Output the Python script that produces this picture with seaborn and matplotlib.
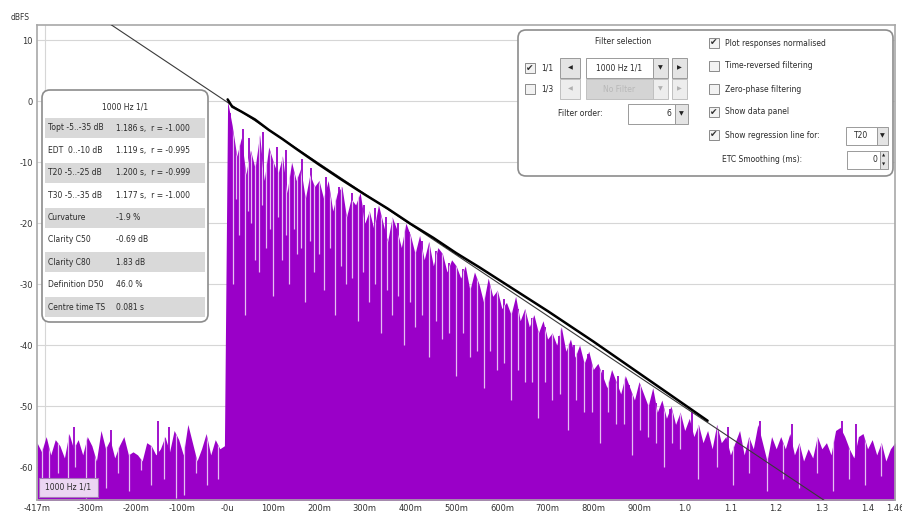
import numpy as np
import pandas as pd
import seaborn as sns
import matplotlib
matplotlib.use("Agg")
import matplotlib.pyplot as plt
from matplotlib.patches import FancyBboxPatch, Rectangle

# ETC level (dB), noise before the impulse, 10 ms steps from -417 ms
pre_db = [-56, -57.5, -55, -58, -55.5, -56.5, -58.5, -54.5, -57, -55.5, -58, -55, -56.5, -59,
          -54, -57, -55.5, -58.5, -56.5, -55, -58, -57.5, -58, -59, -56, -56.5, -58, -57, -55,
          -57.5, -54, -55.5, -58, -53, -56, -59, -57, -54.5, -58, -55.5, -57, -56.5]
# ETC level (dB), 10 ms steps from 0 s
decay_db = [0,
            -4, -9, -6, -12, -8, -11, -5.5, -13, -7.5, -10,
            -12, -9, -15, -10, -13, -11, -16, -12, -14, -13,
            -16, -13, -18, -15, -14, -19, -16, -17, -15, -20,
            -18, -21, -17, -20, -23, -19, -21, -24, -20, -22,
            -25, -22, -26, -23, -27, -24, -25, -28, -26, -27,
            -29, -27, -31, -28, -30, -33, -29, -32, -31, -34,
            -33, -35, -32, -36, -34, -37, -35, -38, -36, -39,
            -38, -40, -37, -41, -39, -42, -40, -43, -41, -44,
            -43, -45, -47, -44, -46, -48, -45, -47, -49, -46,
            -48, -50, -47, -51, -49, -52, -50, -53, -51, -54,
            -52, -55, -53, -56, -54, -57, -53, -56, -55, -58,
            -56, -54, -58, -55, -57, -53, -56, -59, -55, -57,
            -55, -57, -54.5, -58, -56, -59, -57, -58.5, -55, -57,
            -56, -58, -54, -53.5, -55, -57, -58.5, -55, -54.5, -57,
            -55.5, -58, -56, -59, -57, -56]

# narrow spikes above the ETC body
spike_t = [-0.335, -0.255, -0.152, -0.128, 0.005, 0.033, 0.047, 0.078, 0.107, 0.127, 0.163,
           0.183, 0.215, 0.243, 0.272, 0.298, 0.323, 0.347, 0.372, 0.397, 0.425, 0.455,
           0.485, 0.515, 0.545, 0.575, 0.605, 0.635, 0.665, 0.695, 0.725, 0.757, 0.788,
           0.822, 0.853, 0.877, 0.905, 0.938, 0.967, 1.015, 1.095, 1.165, 1.235, 1.345, 1.375]
spike_db = [-53.5, -54, -52.5, -53.5, -2, -4.5, -6, -5, -7.5, -8, -9.5,
            -11, -12.5, -14, -15, -17, -17.5, -19, -20, -21.5, -23, -24.5,
            -26.5, -27.5, -29.5, -31, -32.5, -34, -35.5, -37, -38.5, -40, -41.5,
            -44, -45, -46.5, -47.5, -49.5, -50.5, -51, -53.5, -52.5, -53, -52.5, -53]

# narrow dips in the ETC
dip_t = [-0.405, -0.39, -0.372, -0.35, -0.333, -0.31, -0.29, -0.265, -0.24, -0.215, -0.19,
         -0.168, -0.14, -0.113, -0.095, -0.07, -0.045, -0.02,
         0.012, 0.018, 0.025, 0.038, 0.045, 0.052, 0.06, 0.068, 0.076, 0.085, 0.093, 0.1,
         0.11, 0.118, 0.127, 0.135, 0.145, 0.152, 0.16, 0.17, 0.18, 0.19, 0.2, 0.21, 0.223,
         0.235, 0.247, 0.26, 0.273, 0.285, 0.297, 0.31, 0.322, 0.335, 0.348, 0.36, 0.372,
         0.385, 0.398, 0.41, 0.425, 0.44, 0.455, 0.47, 0.485, 0.5, 0.515, 0.53, 0.545, 0.56,
         0.575, 0.59, 0.605, 0.62, 0.635, 0.65, 0.665, 0.68, 0.695, 0.71, 0.728, 0.745,
         0.763, 0.78, 0.798, 0.815, 0.833, 0.85, 0.868, 0.885, 0.903, 0.92, 0.938, 0.955,
         0.972, 0.99, 1.03, 1.07, 1.105, 1.14, 1.18, 1.215, 1.25, 1.29, 1.325, 1.36, 1.395, 1.43]
dip_db = [-62, -64, -61, -63, -60, -65, -62, -63.5, -61, -64, -60.5, -63, -62, -65, -64.5,
          -61, -63, -62,
          -30, -16, -22, -35, -18, -20, -26, -28, -17, -24, -21, -32,
          -19, -26, -22, -30, -21, -25, -24, -33, -23, -28, -25, -31, -24,
          -35, -27, -30, -29, -36, -28, -33, -30, -38, -31, -35, -32,
          -40, -33, -37, -35, -42, -36, -39, -38, -45, -38, -42, -41, -47,
          -41, -44, -43, -49, -44, -46, -46, -52, -46, -49, -48, -54,
          -49, -51, -51, -56, -51, -53, -53, -58, -54, -55, -56, -60,
          -56, -57, -62, -60, -63, -61, -64, -62, -63.5, -61, -64, -62, -63, -61.5]

# Schroeder integral
sch_t = [0.0, 0.01, 0.03, 0.06, 0.09, 0.12, 0.15, 0.2, 0.25, 0.3, 0.35, 0.4, 0.45, 0.5,
         0.55, 0.6, 0.65, 0.7, 0.75, 0.8, 0.85, 0.9, 0.95, 1.0, 1.05]
sch_db = [0.3, -0.9, -1.7, -3.0, -4.7, -6.2, -7.8, -10.4, -12.9, -15.3, -17.6, -20.1, -22.4,
          -24.9, -27.2, -29.6, -32.0, -34.4, -36.9, -39.4, -42.0, -44.6, -47.2, -49.8, -52.4]

# T20 regression line
reg_t = [-0.417, 1.46]
reg_db = [20.65, -73.2]

x_ticks = [-0.417, -0.3, -0.2, -0.1, 0.0, 0.1, 0.2, 0.3, 0.4, 0.5, 0.6, 0.7, 0.8, 0.9,
           1.0, 1.1, 1.2, 1.3, 1.4, 1.46]
x_labels = ["-417m", "-300m", "-200m", "-100m", "-0u", "100m", "200m", "300m", "400m",
            "500m", "600m", "700m", "800m", "900m", "1.0", "1.1", "1.2", "1.3", "1.4", "1.46"]
grid_x = [-0.4, -0.3, -0.2, -0.1, 0.0, 0.1, 0.2, 0.3, 0.4, 0.5, 0.6, 0.7, 0.8, 0.9,
          1.0, 1.1, 1.2, 1.3, 1.4]
y_ticks = [10, 0, -10, -20, -30, -40, -50, -60]

panel_rows = [("Topt -5..-35 dB", "1.186 s,  r = -1.000"),
              ("EDT  0..-10 dB", "1.119 s,  r = -0.995"),
              ("T20 -5..-25 dB", "1.200 s,  r = -0.999"),
              ("T30 -5..-35 dB", "1.177 s,  r = -1.000"),
              ("Curvature", "-1.9 %"),
              ("Clarity C50", "-0.69 dB"),
              ("Clarity C80", "1.83 dB"),
              ("Definition D50", "46.0 %"),
              ("Centre time TS", "0.081 s")]

options = [("Plot responses normalised", True),
           ("Time-reversed filtering", False),
           ("Zero-phase filtering", False),
           ("Show data panel", True),
           ("Show regression line for:", True)]

PURPLE = "#9A00C8"

sns.set_theme(style="white")
plt.rcParams['font.family'] = ['DejaVu Sans']

fig = plt.figure(figsize=(9.03, 5.15), dpi=100)
ax = fig.add_axes([37/903, 15/515, 858/903, 475/515])

t_pre = -0.417 + 0.01*np.arange(len(pre_db))
t_dec = 0.01*np.arange(len(decay_db))
etc = pd.DataFrame({"t": np.r_[t_pre, t_dec], "db": pre_db + decay_db})

ax.vlines(spike_t, -80, spike_db, color=PURPLE, lw=1.3, zorder=2)
fill = ax.fill_between(etc["t"], etc["db"], -80, color=PURPLE, lw=0, zorder=2)
dips = ax.vlines(dip_t, dip_db, 20, color="#E6BEF2", lw=0.9, zorder=3)
dips.set_clip_path(fill.get_paths()[0], ax.transData)

sns.lineplot(x=reg_t, y=reg_db, ax=ax, color="#3a3a3a", lw=0.8, zorder=4)
sns.lineplot(x=sch_t, y=sch_db, ax=ax, color="black", lw=1.8, zorder=5)

ax.set_xlim(-0.417, 1.46)
ax.set_ylim(-65.4, 12.5)
ax.set_xticks(x_ticks, x_labels)
ax.set_xticks(grid_x, minor=True)
ax.set_yticks(y_ticks, [str(v) for v in y_ticks])
ax.grid(False, which="major", axis="x")
ax.grid(True, which="minor", axis="x", color="#d6d6d6", lw=0.8)
ax.grid(True, which="major", axis="y", color="#d6d6d6", lw=0.8)
ax.set_axisbelow(True)
ax.tick_params(which="both", length=0, labelsize=6, colors="#333333", pad=3)
for s in ax.spines.values():
    s.set_color("#a8a8a8")
    s.set_linewidth(1.2)
ax.set_xlabel("")
ax.set_ylabel("")
fig.text(20/903, 1 - 17/515, "dBFS", fontsize=5.5, color="#333333", ha="center", va="center")

# overlay in pixel coordinates for the panels
ov = fig.add_axes([0, 0, 1, 1], zorder=10)
ov.set_xlim(0, 903)
ov.set_ylim(515, 0)
ov.axis("off")
ov.patch.set_alpha(0)

FS = 5.5
TXT = "#2a2a2a"


def rect(x, y, w, h, fc, ec="#9a9a9a", lw=0.7):
    ov.add_patch(Rectangle((x, y), w, h, fc=fc, ec=ec, lw=lw))


def checkbox(x, yc, checked):
    rect(x, yc - 5, 10, 10, "#f2f2f2", "#8a8a8a")
    if checked:
        ov.text(x + 5, yc, "\u2714", fontsize=6.5, color="#303030", ha="center", va="center")


# data panel
ov.add_patch(FancyBboxPatch((42, 90), 166, 232, boxstyle="round,pad=0,rounding_size=8",
                            fc="white", ec="#8c8c8c", lw=1.2))
ov.text(125, 107, "1000 Hz 1/1", fontsize=FS, color=TXT, ha="center", va="center")
for i, (lab, val) in enumerate(panel_rows):
    yc = 128 + i*22.4
    if i % 2 == 0:
        rect(45, yc - 10, 160, 20, "#d9d9d9", "none", 0)
    ov.text(48, yc, lab, fontsize=FS, color=TXT, va="center")
    ov.text(116, yc, val, fontsize=FS, color=TXT, va="center")

# filter panel
ov.add_patch(FancyBboxPatch((518, 30), 375, 146, boxstyle="round,pad=0,rounding_size=8",
                            fc="white", ec="#8c8c8c", lw=1.2))
ov.text(623, 42, "Filter selection", fontsize=FS, color=TXT, ha="center", va="center")

checkbox(525, 68, True)
ov.text(541, 68, "1/1", fontsize=FS, color=TXT, va="center")
rect(560, 58, 20, 20, "#e4e4e4")
ov.text(570, 68, "\u25c0", fontsize=4.5, color="#222222", ha="center", va="center")
rect(586, 58, 67, 20, "white")
ov.text(619, 68, "1000 Hz 1/1", fontsize=FS, color=TXT, ha="center", va="center")
rect(653, 58, 15, 20, "#e4e4e4")
ov.text(660.5, 68, "\u25bc", fontsize=4.5, color="#222222", ha="center", va="center")
rect(672, 58, 15, 20, "#e4e4e4")
ov.text(679.5, 68, "\u25b6", fontsize=4.5, color="#222222", ha="center", va="center")

checkbox(525, 89, False)
ov.text(541, 89, "1/3", fontsize=FS, color=TXT, va="center")
rect(560, 79, 20, 20, "#ededed", "#c0c0c0")
ov.text(570, 89, "\u25c0", fontsize=4.5, color="#b0b0b0", ha="center", va="center")
rect(586, 79, 67, 20, "#d4d4d4", "#c0c0c0")
ov.text(619, 89, "No Filter", fontsize=FS, color="#b8b8b8", ha="center", va="center")
rect(653, 79, 15, 20, "#ededed", "#c0c0c0")
ov.text(660.5, 89, "\u25bc", fontsize=4.5, color="#b0b0b0", ha="center", va="center")
rect(672, 79, 15, 20, "#ededed", "#c0c0c0")
ov.text(679.5, 89, "\u25b6", fontsize=4.5, color="#b0b0b0", ha="center", va="center")

ov.text(558, 114, "Filter order:", fontsize=FS, color=TXT, va="center")
rect(628, 104, 47, 20, "white")
ov.text(671, 114, "6", fontsize=FS, color=TXT, ha="right", va="center")
rect(675, 104, 13, 20, "#e4e4e4")
ov.text(681.5, 114, "\u25bc", fontsize=4.5, color="#222222", ha="center", va="center")

for i, (lab, on) in enumerate(options):
    yc = 43 + i*23
    checkbox(709, yc, on)
    ov.text(725, yc, lab, fontsize=FS, color=TXT, va="center")
rect(846, 127, 31, 18, "white")
ov.text(861, 136, "T20", fontsize=FS, color=TXT, ha="center", va="center")
rect(877, 127, 11, 18, "#e4e4e4")
ov.text(882.5, 136, "\u25bc", fontsize=4.5, color="#222222", ha="center", va="center")

ov.text(722, 160, "ETC Smoothing (ms):", fontsize=FS, color=TXT, va="center")
rect(847, 151, 33, 18, "white")
ov.text(877, 160, "0", fontsize=FS, color=TXT, ha="right", va="center")
rect(880, 151, 8, 18, "#e4e4e4")
ov.text(884, 155.5, "\u25b2", fontsize=3, color="#222222", ha="center", va="center")
ov.text(884, 164.5, "\u25bc", fontsize=3, color="#222222", ha="center", va="center")

# trace label bottom-left
rect(39, 478, 59, 19, "#ecd6f3", "#a57ab8", 0.8)
ov.text(68.5, 487.5, "1000 Hz 1/1", fontsize=FS, color=TXT, ha="center", va="center")

fig.savefig("out.png", dpi=100)
